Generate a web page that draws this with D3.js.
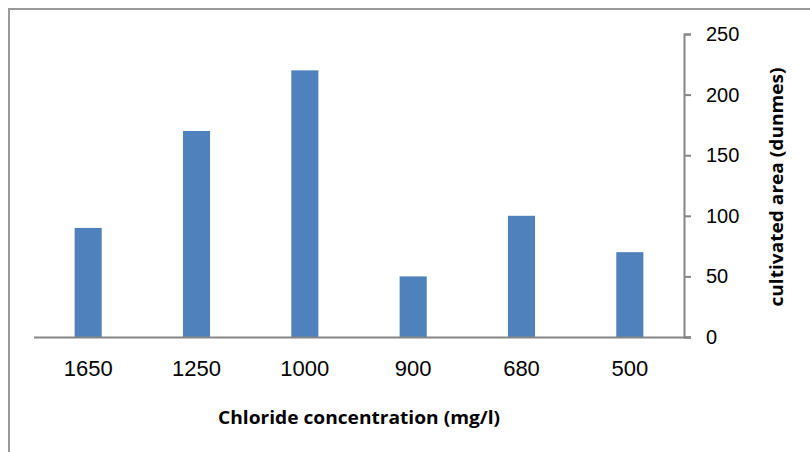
<!DOCTYPE html>
<html>
<head>
<meta charset="utf-8">
<script src="https://cdn.jsdelivr.net/npm/d3@7"></script>
<style>
  body { margin: 0; background: #fff; }
  svg { display: block; }
</style>
</head>
<body>
<svg></svg>
<script>
// chloride concentration categories (mg/l) and cultivated area (dunmes)
var categories = ["1650", "1250", "1000", "900", "680", "500"];
var areas = [90, 170, 220, 50, 100, 70];
var yTicks = [0, 50, 100, 150, 200, 250];

var svgWidth = 810, svgHeight = 452;
var margin = { top: 34, right: 126, bottom: 115, left: 34 };
var width = svgWidth - margin.left - margin.right;
var height = svgHeight - margin.top - margin.bottom;

var svg = d3.select('svg')
  .attr("width", svgWidth)
  .attr("height", svgHeight);

// outer chart frame (only top and left edges visible)
svg.append("path")
  .attr("d", "M9,452 L9,9 L810,9")
  .attr("fill", "none")
  .attr("stroke", "#999")
  .attr("stroke-width", 2);

var g = svg.append("g")
  .attr("transform", "translate(" + margin.left + "," + margin.top + ")");

var x = d3.scaleBand()
  .domain(categories)
  .range([0, width]);

var y = d3.scaleLinear()
  .domain([0, 250])
  .range([height, 0]);

var barWidth = x.bandwidth() * 0.25;

g.selectAll("rect")
  .data(areas)
  .enter()
  .append("rect")
  .attr("x", function (d, i) { return x(categories[i]) + (x.bandwidth() - barWidth) / 2; })
  .attr("y", function (d) { return y(d); })
  .attr("width", barWidth)
  .attr("height", function (d) { return height - y(d); })
  .attr("fill", "#4f81bd");

// x axis
var xAxis = g.append("g")
  .attr("transform", "translate(0," + height + ")")
  .call(d3.axisBottom(x).tickSize(0).tickPadding(20));
xAxis.select(".domain")
  .attr("d", "M0,0.5H" + (width + 7))
  .attr("stroke", "#868686")
  .attr("stroke-width", 2);
xAxis.selectAll("text")
  .attr("font-family", "Liberation Sans, Arial, sans-serif")
  .attr("font-size", 22)
  .attr("fill", "#000")
  .attr("dy", "0.85em");

// y axis on the right
var yAxis = g.append("g")
  .attr("transform", "translate(" + width + ",0)")
  .call(d3.axisRight(y).tickValues(yTicks).tickSizeInner(7).tickSizeOuter(7).tickPadding(15));
yAxis.select(".domain")
  .attr("stroke", "#868686")
  .attr("stroke-width", 2);
yAxis.selectAll(".tick line")
  .attr("stroke", "#868686")
  .attr("stroke-width", 2);
yAxis.selectAll("text")
  .attr("font-family", "Liberation Sans, Arial, sans-serif")
  .attr("font-size", 20)
  .attr("fill", "#000");

// axis titles
svg.append("text")
  .attr("x", 359)
  .attr("y", 424)
  .attr("text-anchor", "middle")
  .attr("font-family", "Open Sans, sans-serif")
  .attr("font-weight", "bold")
  .attr("font-size", 18)
  .attr("textLength", 282)
  .attr("lengthAdjust", "spacingAndGlyphs")
  .text("Chloride concentration (mg/l)");

svg.append("text")
  .attr("transform", "translate(783,187) rotate(-90)")
  .attr("text-anchor", "middle")
  .attr("font-family", "Open Sans, sans-serif")
  .attr("font-weight", "bold")
  .attr("font-size", 18)
  .attr("textLength", 239)
  .attr("lengthAdjust", "spacingAndGlyphs")
  .text("cultivated area (dunmes)");
</script>
</body>
</html>
